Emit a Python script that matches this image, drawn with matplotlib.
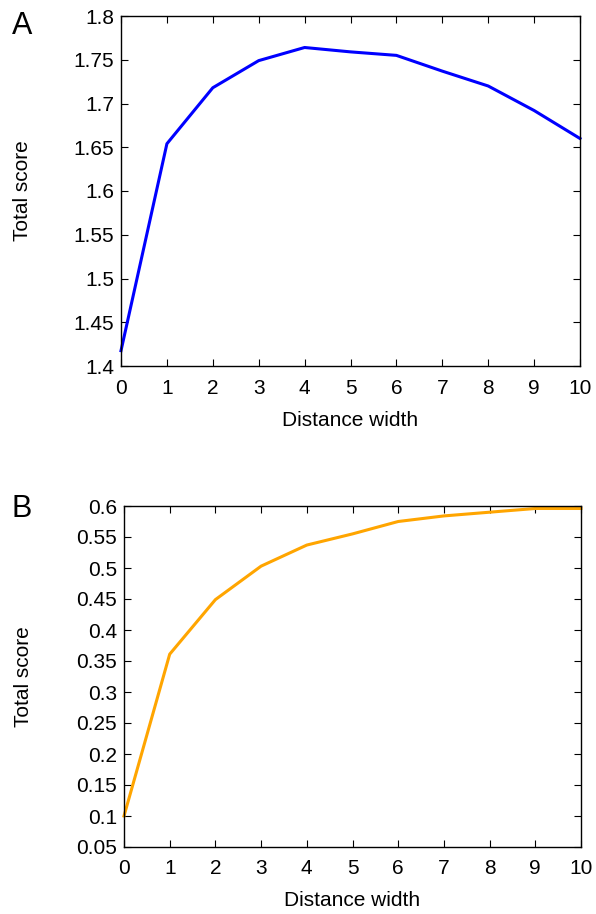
import matplotlib
matplotlib.use("Agg")
import matplotlib.pyplot as plt

plt.rcParams['font.family'] = ['Liberation Sans', 'DejaVu Sans']

distance_width = [0, 1, 2, 3, 4, 5, 6, 7, 8, 9, 10]
score_a = [1.4175, 1.654, 1.718, 1.749, 1.764, 1.759, 1.755, 1.737, 1.720, 1.692, 1.660]
score_b = [0.100, 0.361, 0.449, 0.503, 0.537, 0.555, 0.575, 0.584, 0.590, 0.596, 0.596]

yticks_a = [1.4, 1.45, 1.5, 1.55, 1.6, 1.65, 1.7, 1.75, 1.8]
ytick_labels_a = ['1.4', '1.45', '1.5', '1.55', '1.6', '1.65', '1.7', '1.75', '1.8']
yticks_b = [0.05, 0.1, 0.15, 0.2, 0.25, 0.3, 0.35, 0.4, 0.45, 0.5, 0.55, 0.6]
ytick_labels_b = ['0.05', '0.1', '0.15', '0.2', '0.25', '0.3', '0.35', '0.4', '0.45', '0.5', '0.55', '0.6']
xticks = list(range(0, 11))

W, H = 596, 914
fig = plt.figure(figsize=(W / 100, H / 100), dpi=100)

def make_axes(left, top, right, bottom):
    return fig.add_axes([left / W, 1 - bottom / H, (right - left) / W, (bottom - top) / H])

boxes = {'A': (121, 16, 580, 366), 'B': (124, 506, 581, 847)}
ax_a = make_axes(*boxes['A'])
ax_b = make_axes(*boxes['B'])

def style(ax, box, yticks, ylabels, ylim, ylabel_x, xlabel_y):
    left, top, right, bottom = box
    ax.set_xlim(0, 10)
    ax.set_ylim(*ylim)
    ax.set_xticks(xticks)
    ax.set_xticklabels([str(x) for x in xticks])
    ax.set_yticks(yticks)
    ax.set_yticklabels(ylabels)
    ax.tick_params(direction='in', top=True, right=True, length=5, width=0.8,
                   labelsize=15)
    ax.tick_params(axis='x', pad=9)
    ax.tick_params(axis='y', pad=5)
    for s in ax.spines.values():
        s.set_linewidth(1.0)
    ax.set_xlabel('Distance width', fontsize=15)
    ax.set_ylabel('Total score', fontsize=15)
    ax.xaxis.label.set_va('center')
    ax.yaxis.label.set_va('center')
    ax.xaxis.set_label_coords(0.5, (bottom - xlabel_y) / (bottom - top))
    ax.yaxis.set_label_coords((ylabel_x - left) / (right - left), 0.5)

ax_a.plot(distance_width, score_a, color='#0000ff', linewidth=2.2, clip_on=False)
style(ax_a, boxes['A'], yticks_a, ytick_labels_a, (1.4, 1.8), 22, 421)
ax_b.plot(distance_width, score_b, color='#ffa500', linewidth=2.2, clip_on=False)
style(ax_b, boxes['B'], yticks_b, ytick_labels_b, (0.05, 0.6), 24, 900)

fig.text(22 / W, 1 - 26 / H, 'A', fontsize=22, ha='center', va='center')
fig.text(22 / W, 1 - 509 / H, 'B', fontsize=22, ha='center', va='center')

fig.savefig('out.png', dpi=100)
